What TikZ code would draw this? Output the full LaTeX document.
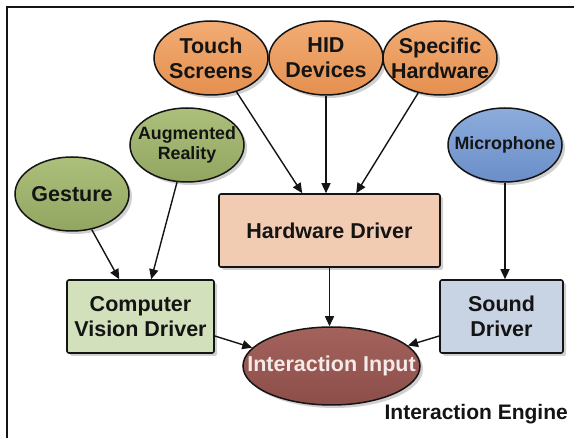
\documentclass[tikz,border=0pt]{standalone}
\usepackage{fontspec}
\setmainfont{Liberation Sans}
\usetikzlibrary{shapes.geometric,arrows.meta,shadows}
\newcommand{\zw}[1]{\makebox[0pt]{#1}}
\newcommand{\bigf}{\fontsize{21.5}{25}\selectfont\bfseries}
\newcommand{\smf}{\fontsize{17.8}{20.5}\selectfont\bfseries}
\definecolor{orTop}{RGB}{242,172,116}
\definecolor{orBot}{RGB}{228,144,80}
\definecolor{grTop}{RGB}{172,192,124}
\definecolor{grBot}{RGB}{146,166,98}
\definecolor{blTop}{RGB}{140,172,220}
\definecolor{blBot}{RGB}{106,142,200}
\definecolor{iiTop}{RGB}{164,98,92}
\definecolor{iiBot}{RGB}{140,78,74}
\definecolor{hdFill}{RGB}{241,204,178}
\definecolor{cvFill}{RGB}{210,224,188}
\definecolor{sdFill}{RGB}{200,211,227}
\definecolor{inkC}{RGB}{20,20,20}
\begin{document}
\begin{tikzpicture}[x=1pt,y=-1pt,
  ell/.style={ellipse, draw=inkC, line width=1.5pt, minimum width=114pt,
    minimum height=74pt, inner sep=0pt, align=center, text=inkC, font=\bigf,
    drop shadow={shadow xshift=3pt, shadow yshift=-3pt, opacity=0.3, fill=black!60}},
  orell/.style={ell, top color=orTop, bottom color=orBot},
  grell/.style={ell, top color=grTop, bottom color=grBot},
  blell/.style={ell, top color=blTop, bottom color=blBot},
  boxn/.style={rectangle, rounded corners=2pt, draw=inkC, line width=1.6pt,
    minimum height=73pt, align=center, text=inkC, font=\bigf,
    drop shadow={shadow xshift=3pt, shadow yshift=-3pt, opacity=0.3, fill=black!60}},
  arr/.style={draw=inkC, line width=1.4pt, -{Triangle[length=10pt,width=9pt]}}
]
\useasboundingbox (0,0) rectangle (574,438);
\fill[white] (0,0) rectangle (574,438);
% frame
\coordinate (fa) at (7,438);
\coordinate (fb) at (7,7);
\coordinate (fc) at (574,7);
\draw[line width=2.2pt, inkC] (fa) -- (fb) -- (fc);

% top ellipses
\node[orell] (touch) at (211,58) {\zw{Touch}\\\zw{Screens}};
\node[orell] (hid) at (326,58) {\zw{HID}\\\zw{Devices}};
\node[orell] (spec) at (440,58) {\zw{Specific}\\\zw{Hardware}};
% side ellipses
\node[grell, font=\smf] (ar) at (187,145) {\zw{Augmented}\\\zw{Reality}};
\node[grell] (gest) at (72,194) {\zw{Gesture}};
\node[blell, font=\smf] (mic) at (505,145) {\zw{Microphone}};

% boxes
\node[boxn, fill=hdFill, minimum width=221pt] (hd) at (329.5,230.5) {Hardware Driver};
\node[boxn, fill=cvFill, minimum width=147pt] (cv) at (140.5,316.5) {Computer\\Vision Driver};
\node[boxn, fill=sdFill, minimum width=123pt] (sd) at (501.5,316.5) {Sound\\Driver};

% interaction input
\node[ell, top color=iiTop, bottom color=iiBot, minimum width=177pt, minimum height=78pt,
  text={rgb,255:red,244;green,234;blue,232}] (ii) at (331.5,366) {\zw{Interaction Input}};

\node[anchor=east, font=\fontsize{21}{25}\selectfont\bfseries, text=inkC, inner sep=0pt] (eng) at (568,414) {Interaction Engine};

% arrows
\draw[arr] (touch.-53) -- ([xshift=84pt]hd.north west);
\draw[arr] (hid.south) -- (hid.south |- hd.north);
\draw[arr] (spec.-122) -- ([xshift=138pt]hd.north west);
\draw[arr] (gest.-61) -- ([xshift=53pt]cv.north west);
\draw[arr] (ar.-105) -- ([xshift=85pt]cv.north west);
\draw[arr] (mic.south) -- (mic.south |- sd.north);
\draw[arr] (hd.south) -- (hd.south |- ii.north);
\draw[arr] ([yshift=-19.5pt]cv.east) -- (ii.167);
\draw[arr] ([yshift=-19.5pt]sd.west) -- (ii.15);
\end{tikzpicture}
\end{document}
